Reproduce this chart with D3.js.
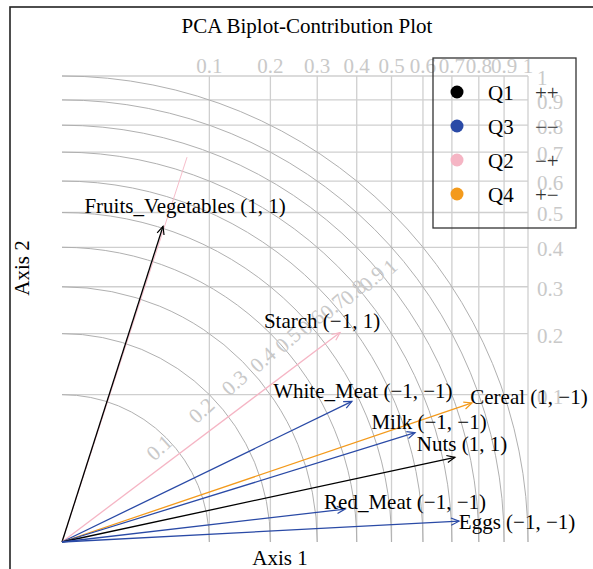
<!DOCTYPE html>
<html>
<head>
<meta charset="utf-8">
<script src="https://cdn.jsdelivr.net/npm/d3@7"></script>
<style>
  body { margin: 0; background: #fff; }
  svg { display: block; font-family: "Liberation Serif", "DejaVu Serif", serif; }
</style>
</head>
<body>
<div id="chart"></div>
<script>
// contribution of each variable to axis 1 / axis 2, with the sign of its loading
const variables = ['Fruits_Vegetables', 'Starch', 'White_Meat', 'Cereal', 'Milk', 'Nuts', 'Red_Meat', 'Eggs']
const contribAxis1 = [0.047, 0.356, 0.387, 0.774, 0.574, 0.711, 0.369, 0.726]
const contribAxis2 = [0.459, 0.202, 0.091, 0.089, 0.055, 0.033, 0.005, 0.002]
const signAxis1 = [1, -1, -1, 1, -1, 1, -1, -1]
const signAxis2 = [1, 1, -1, -1, -1, 1, -1, -1]

// faint trace that continues past the Fruits_Vegetables arrow
const traceAxis1 = [0.072]
const traceAxis2 = [0.682]

const ticks = [0.1, 0.2, 0.3, 0.4, 0.5, 0.6, 0.7, 0.8, 0.9, 1]
const quadrants = ['Q1', 'Q3', 'Q2', 'Q4']
const quadrantSigns = ['++', '\u2212\u2212', '\u2212+', '+\u2212']

const colors = { Q1: '#000000', Q2: '#f5b5c4', Q3: '#2a4aa6', Q4: '#f39a1c' }

// label nudges (px) so the texts sit like in the original
const labelShift = [[22, -20], [-18, -12], [11, -10], [57, -6], [14, -11], [7, -13], [60, -7], [58, 1]]

const width = 593
const height = 569
const ox = 62, oy = 542, size = 466

const x = d3.scaleSqrt().domain([0, 1]).range([ox, ox + size])
const y = d3.scaleSqrt().domain([0, 1]).range([oy, oy - size])
const r = d3.scaleSqrt().domain([0, 1]).range([0, size])

const quadOf = (s1, s2) => s1 > 0 ? (s2 > 0 ? 'Q1' : 'Q4') : (s2 > 0 ? 'Q2' : 'Q3')
const signTxt = s => s < 0 ? '\u22121' : '1'

const rows = variables.map((name, i) => ({
  name: name,
  c1: contribAxis1[i],
  c2: contribAxis2[i],
  q: quadOf(signAxis1[i], signAxis2[i]),
  label: `${name} (${signTxt(signAxis1[i])}, ${signTxt(signAxis2[i])})`,
  shift: labelShift[i]
}))

const svg = d3.select('#chart').append('svg')
  .attr('width', width)
  .attr('height', height)

const defs = svg.append('defs')
Object.entries(colors).forEach(([q, c]) => {
  defs.append('marker')
    .attr('id', 'head-' + q)
    .attr('viewBox', '-10 -5 12 10')
    .attr('refX', 0).attr('refY', 0)
    .attr('markerWidth', 12).attr('markerHeight', 10)
    .attr('markerUnits', 'userSpaceOnUse')
    .attr('orient', 'auto')
    .append('path')
    .attr('d', 'M-8,-3.6L0,0L-8,3.6')
    .attr('fill', 'none')
    .attr('stroke', c)
    .attr('stroke-width', 1.2)
})

// grid
const grid = svg.append('g')
grid.selectAll('.vgrid').data(ticks).join('line')
  .attr('class', 'vgrid')
  .attr('x1', d => x(d)).attr('x2', d => x(d))
  .attr('y1', y(1)).attr('y2', y(0))
  .attr('stroke', '#cfcfcf').attr('stroke-width', 1.3)
grid.selectAll('.hgrid').data(ticks).join('line')
  .attr('class', 'hgrid')
  .attr('x1', x(0)).attr('x2', x(1))
  .attr('y1', d => y(d)).attr('y2', d => y(d))
  .attr('stroke', '#cfcfcf').attr('stroke-width', 1.3)

// contribution circles
grid.selectAll('.arc').data(ticks).join('path')
  .attr('class', 'arc')
  .attr('d', d => {
    const p = d3.path()
    p.arc(ox, oy, r(d), 0, -Math.PI / 2, true)
    return p.toString()
  })
  .attr('fill', 'none')
  .attr('stroke', '#b0b0b0')
  .attr('stroke-width', 1)

grid.selectAll('.arclab').data(ticks).join('text')
  .attr('class', 'arclab')
  .attr('transform', d => {
    const a = (46 - 6 * Math.sqrt(d)) * Math.PI / 180
    const rr = r(d) * 0.92
    return `translate(${ox + rr * Math.cos(a)},${oy - rr * Math.sin(a)}) rotate(-42)`
  })
  .attr('text-anchor', 'middle')
  .attr('dominant-baseline', 'central')
  .attr('font-size', 21)
  .attr('fill', '#c9c9c9')
  .text(d => d3.format('~g')(d))

// tick labels, top and right
svg.append('g').selectAll('text').data(ticks).join('text')
  .attr('x', d => x(d)).attr('y', 73)
  .attr('text-anchor', 'middle')
  .attr('font-size', 21)
  .attr('fill', '#c9c9c9')
  .text(d => d3.format('~g')(d))
svg.append('g').selectAll('text').data(ticks).join('text')
  .attr('x', 537).attr('y', d => y(d) + 2)
  .attr('dominant-baseline', 'central')
  .attr('font-size', 21)
  .attr('fill', '#c9c9c9')
  .text(d => d3.format('~g')(d))

// trace under the first arrow
svg.append('g').selectAll('line').data(traceAxis1).join('line')
  .attr('x1', x(0)).attr('y1', y(0))
  .attr('x2', d => x(d)).attr('y2', (d, i) => y(traceAxis2[i]))
  .attr('stroke', colors.Q2).attr('stroke-width', 0.9)

// arrows
svg.append('g').selectAll('line').data(rows).join('line')
  .attr('x1', x(0)).attr('y1', y(0))
  .attr('x2', d => x(d.c1)).attr('y2', d => y(d.c2))
  .attr('stroke', d => colors[d.q])
  .attr('stroke-width', 1.3)
  .attr('marker-end', d => `url(#head-${d.q})`)

svg.append('g').selectAll('text').data(rows).join('text')
  .attr('x', d => x(d.c1) + d.shift[0])
  .attr('y', d => y(d.c2) + d.shift[1])
  .attr('text-anchor', 'middle')
  .attr('dominant-baseline', 'central')
  .attr('font-size', 21)
  .attr('fill', '#000')
  .text(d => d.label)

// legend
const legend = svg.append('g')
legend.append('rect')
  .attr('x', 433).attr('y', 58)
  .attr('width', 143).attr('height', 170)
  .attr('fill', 'none')
  .attr('stroke', '#333').attr('stroke-width', 1.3)
const items = legend.selectAll('.item').data(quadrants).join('g')
  .attr('class', 'item')
  .attr('transform', (d, i) => `translate(0,${92 + i * 34})`)
items.append('circle')
  .attr('cx', 457).attr('cy', 0).attr('r', 6.5)
  .attr('fill', d => colors[d])
items.append('text')
  .attr('x', 488).attr('y', 1)
  .attr('dominant-baseline', 'central')
  .attr('font-size', 21)
  .text(d => d)
items.append('text')
  .attr('x', 535).attr('y', 1)
  .attr('dominant-baseline', 'central')
  .attr('font-size', 21)
  .attr('fill', '#333')
  .text((d, i) => quadrantSigns[i])

// titles
svg.append('text')
  .attr('x', 307).attr('y', 33)
  .attr('text-anchor', 'middle')
  .attr('font-size', 21)
  .text('PCA Biplot-Contribution Plot')
svg.append('text')
  .attr('x', 280).attr('y', 565)
  .attr('text-anchor', 'middle')
  .attr('font-size', 21)
  .text('Axis 1')
svg.append('text')
  .attr('transform', 'translate(29,268) rotate(-90)')
  .attr('text-anchor', 'middle')
  .attr('font-size', 21)
  .text('Axis 2')

// outer frame
svg.append('rect')
  .attr('x', 10).attr('y', 7)
  .attr('width', 640).attr('height', 640)
  .attr('fill', 'none')
  .attr('stroke', '#222').attr('stroke-width', 1.6)
</script>
</body>
</html>
